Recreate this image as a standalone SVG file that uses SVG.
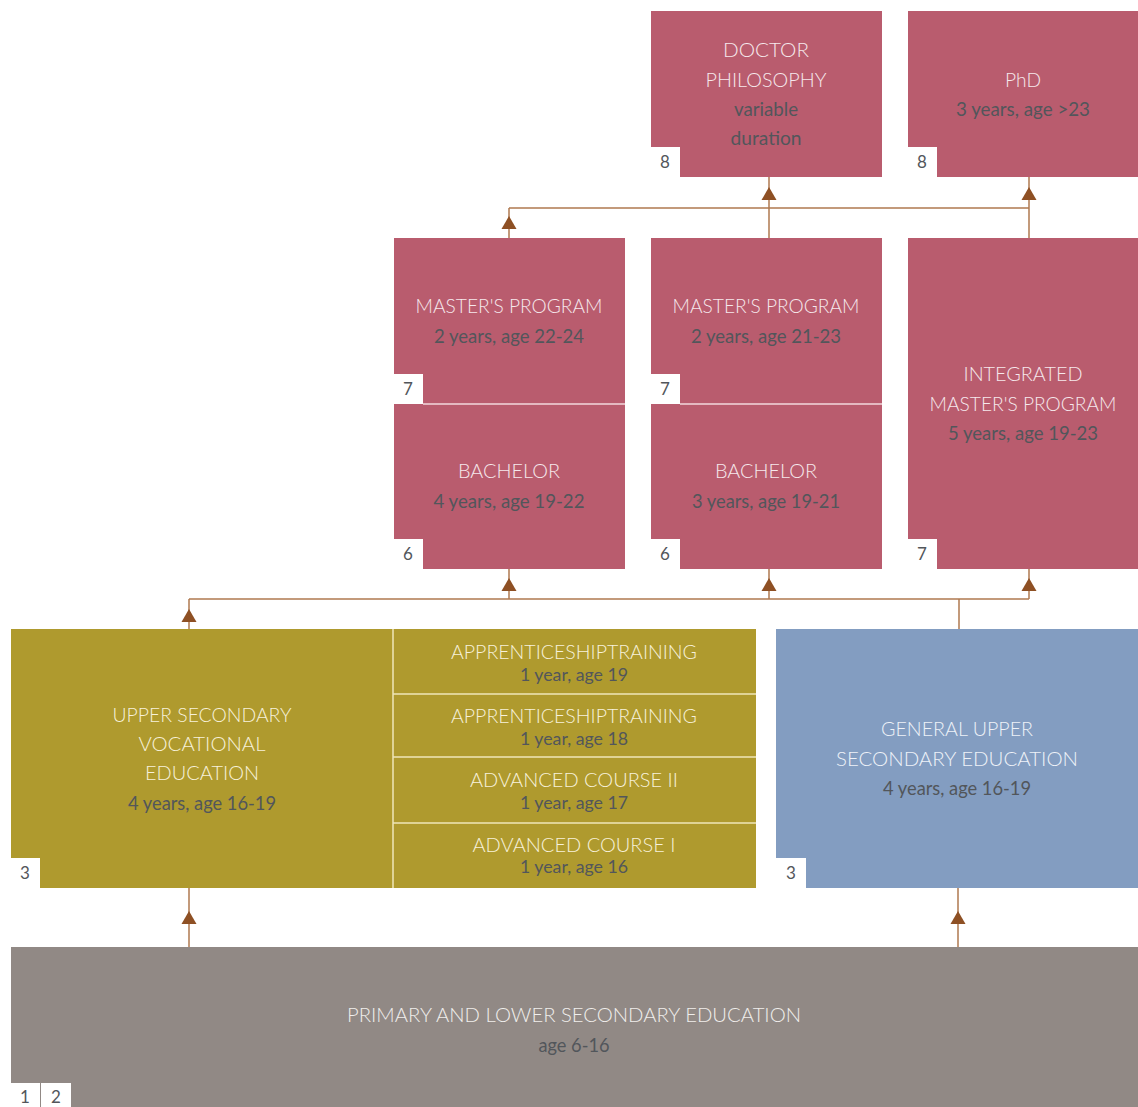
<svg xmlns="http://www.w3.org/2000/svg" width="1138" height="1107" viewBox="0 0 1138 1107">
<style>
.rose{fill:#b95c6e}
.olive{fill:#af9a2e}
.blue{fill:#839dc1}
.gray{fill:#918985}
.notch{fill:#ffffff}
.t{font-family:Lato,"Liberation Sans",sans-serif;font-weight:300;font-size:20px;text-anchor:middle}
.tr{fill:#f6e8ec}
.to{fill:#f7f1da}
.tb{fill:#eef2f8}
.tg{fill:#f0eeec}
.s{font-family:Lato,"Liberation Sans",sans-serif;font-weight:400;font-size:20px;text-anchor:middle;fill:#52565b}
.sm{font-size:18px}
.tm{font-size:19px}
.n{font-family:Lato,"Liberation Sans",sans-serif;font-weight:400;font-size:17px;text-anchor:middle;fill:#52565b}
.conn{stroke:#b07a50;stroke-width:1.5;fill:none}
.head{fill:#8e5024}
.divr{stroke:#f3d8de;stroke-width:1.5}
.divo{stroke:#efe6b8;stroke-width:1.5}
</style>
<defs>
<path id="ah" d="M0,0 L7.5,13 L-7.5,13 Z"/>
</defs>

<g id="connectors">
<path class="conn" d="M509,208 H1029 M509,208 V238 M769,177 V238 M1029,177 V238"/>
<path class="conn" d="M189,599 H1029 M189,599 V629 M509,569 V599 M769,569 V599 M1029,569 V599 M959,599 V629"/>
<path class="conn" d="M189,888 V947 M958,888 V947"/>
<use href="#ah" class="head" x="509" y="216"/>
<use href="#ah" class="head" x="769" y="187"/>
<use href="#ah" class="head" x="1029" y="187"/>
<use href="#ah" class="head" x="189" y="609"/>
<use href="#ah" class="head" x="509" y="578"/>
<use href="#ah" class="head" x="769" y="578"/>
<use href="#ah" class="head" x="1029" y="578"/>
<use href="#ah" class="head" x="189" y="911"/>
<use href="#ah" class="head" x="958" y="911"/>
</g>

<g id="doctor">
<rect class="rose" x="651" y="11" width="231" height="166"/>
<rect class="notch" x="651" y="147" width="29" height="30"/>
<text class="n" x="665" y="168">8</text>
<text class="t tr" x="766" y="57" textLength="86" lengthAdjust="spacingAndGlyphs">DOCTOR</text>
<text class="t tr" x="766" y="87" textLength="121" lengthAdjust="spacingAndGlyphs">PHILOSOPHY</text>
<text class="s" x="766" y="116" textLength="64" lengthAdjust="spacingAndGlyphs">variable</text>
<text class="s" x="766" y="145" textLength="71" lengthAdjust="spacingAndGlyphs">duration</text>
</g>

<g id="phd">
<rect class="rose" x="908" y="11" width="230" height="166"/>
<rect class="notch" x="908" y="147" width="29" height="30"/>
<text class="n" x="922" y="168">8</text>
<text class="t tr" x="1023" y="87" textLength="36" lengthAdjust="spacingAndGlyphs">PhD</text>
<text class="s" x="1023" y="116" textLength="134" lengthAdjust="spacingAndGlyphs">3 years, age &gt;23</text>
</g>

<g id="master1">
<rect class="rose" x="394" y="238" width="231" height="166"/>
<rect class="notch" x="394" y="374" width="29" height="30"/>
<text class="n" x="408" y="395">7</text>
<text class="t tr" x="509" y="313" textLength="187" lengthAdjust="spacingAndGlyphs">MASTER'S PROGRAM</text>
<text class="s" x="509" y="343" textLength="150" lengthAdjust="spacingAndGlyphs">2 years, age 22-24</text>
</g>

<g id="bachelor1">
<rect class="rose" x="394" y="404" width="231" height="165"/>
<rect class="notch" x="394" y="539" width="29" height="30"/>
<text class="n" x="408" y="560">6</text>
<text class="t tr" x="509" y="478" textLength="102" lengthAdjust="spacingAndGlyphs">BACHELOR</text>
<text class="s" x="509" y="508" textLength="151" lengthAdjust="spacingAndGlyphs">4 years, age 19-22</text>
</g>

<g id="master2">
<rect class="rose" x="651" y="238" width="231" height="166"/>
<rect class="notch" x="651" y="374" width="29" height="30"/>
<text class="n" x="665" y="395">7</text>
<text class="t tr" x="766" y="313" textLength="187" lengthAdjust="spacingAndGlyphs">MASTER'S PROGRAM</text>
<text class="s" x="766" y="343" textLength="150" lengthAdjust="spacingAndGlyphs">2 years, age 21-23</text>
</g>

<g id="bachelor2">
<rect class="rose" x="651" y="404" width="231" height="165"/>
<rect class="notch" x="651" y="539" width="29" height="30"/>
<text class="n" x="665" y="560">6</text>
<text class="t tr" x="766" y="478" textLength="102" lengthAdjust="spacingAndGlyphs">BACHELOR</text>
<text class="s" x="766" y="508" textLength="148" lengthAdjust="spacingAndGlyphs">3 years, age 19-21</text>
</g>

<g id="rose-dividers">
<line class="divr" x1="423" y1="404" x2="625" y2="404"/>
<line class="divr" x1="680" y1="404" x2="882" y2="404"/>
</g>

<g id="integrated">
<rect class="rose" x="908" y="238" width="230" height="331"/>
<rect class="notch" x="908" y="539" width="29" height="30"/>
<text class="n" x="922" y="560">7</text>
<text class="t tr" x="1023" y="381" textLength="119" lengthAdjust="spacingAndGlyphs">INTEGRATED</text>
<text class="t tr" x="1023" y="411" textLength="187" lengthAdjust="spacingAndGlyphs">MASTER'S PROGRAM</text>
<text class="s" x="1023" y="440" textLength="150" lengthAdjust="spacingAndGlyphs">5 years, age 19-23</text>
</g>

<g id="vocational">
<rect class="olive" x="11" y="629" width="382" height="259"/>
<rect class="notch" x="11" y="858" width="29" height="30"/>
<text class="n" x="25" y="879">3</text>
<text class="t to" x="202" y="722" textLength="179" lengthAdjust="spacingAndGlyphs">UPPER SECONDARY</text>
<text class="t to" x="202" y="751" textLength="127" lengthAdjust="spacingAndGlyphs">VOCATIONAL</text>
<text class="t to" x="202" y="780" textLength="114" lengthAdjust="spacingAndGlyphs">EDUCATION</text>
<text class="s" x="202" y="810" textLength="148" lengthAdjust="spacingAndGlyphs">4 years, age 16-19</text>
</g>

<g id="appr19">
<rect class="olive" x="393" y="629" width="363" height="65"/>
<text class="t tm to" x="574" y="659" textLength="246" lengthAdjust="spacingAndGlyphs">APPRENTICESHIPTRAINING</text>
<text class="s sm" x="574" y="681" textLength="108" lengthAdjust="spacingAndGlyphs">1 year, age 19</text>
</g>
<g id="appr18">
<rect class="olive" x="393" y="694" width="363" height="63"/>
<text class="t tm to" x="574" y="723" textLength="246" lengthAdjust="spacingAndGlyphs">APPRENTICESHIPTRAINING</text>
<text class="s sm" x="574" y="745" textLength="108" lengthAdjust="spacingAndGlyphs">1 year, age 18</text>
</g>
<g id="adv2">
<rect class="olive" x="393" y="757" width="363" height="66"/>
<text class="t tm to" x="574" y="787" textLength="208" lengthAdjust="spacingAndGlyphs">ADVANCED COURSE II</text>
<text class="s sm" x="574" y="809" textLength="108" lengthAdjust="spacingAndGlyphs">1 year, age 17</text>
</g>
<g id="adv1">
<rect class="olive" x="393" y="823" width="363" height="65"/>
<text class="t tm to" x="574" y="852" textLength="203" lengthAdjust="spacingAndGlyphs">ADVANCED COURSE I</text>
<text class="s sm" x="574" y="873" textLength="108" lengthAdjust="spacingAndGlyphs">1 year, age 16</text>
</g>
<g id="olive-dividers">
<line class="divo" x1="393" y1="629" x2="393" y2="888"/>
<line class="divo" x1="393" y1="694" x2="756" y2="694"/>
<line class="divo" x1="393" y1="757" x2="756" y2="757"/>
<line class="divo" x1="393" y1="823" x2="756" y2="823"/>
</g>

<g id="general">
<rect class="blue" x="776" y="629" width="362" height="259"/>
<rect class="notch" x="776" y="858" width="30" height="30"/>
<text class="n" x="791" y="879">3</text>
<text class="t tb" x="957" y="736" textLength="152" lengthAdjust="spacingAndGlyphs">GENERAL UPPER</text>
<text class="t tb" x="957" y="766" textLength="242" lengthAdjust="spacingAndGlyphs">SECONDARY EDUCATION</text>
<text class="s" x="957" y="795" textLength="148" lengthAdjust="spacingAndGlyphs">4 years, age 16-19</text>
</g>

<g id="primary">
<rect class="gray" x="11" y="947" width="1127" height="160"/>
<rect class="notch" x="11" y="1083" width="60" height="24"/>
<line x1="40.5" y1="1083" x2="40.5" y2="1107" stroke="#918985" stroke-width="1"/>
<text class="n" x="25" y="1103">1</text>
<text class="n" x="56" y="1103">2</text>
<text class="t tg" x="574" y="1022" textLength="454" lengthAdjust="spacingAndGlyphs">PRIMARY AND LOWER SECONDARY EDUCATION</text>
<text class="s" x="574" y="1052" textLength="71" lengthAdjust="spacingAndGlyphs">age 6-16</text>
</g>
</svg>
